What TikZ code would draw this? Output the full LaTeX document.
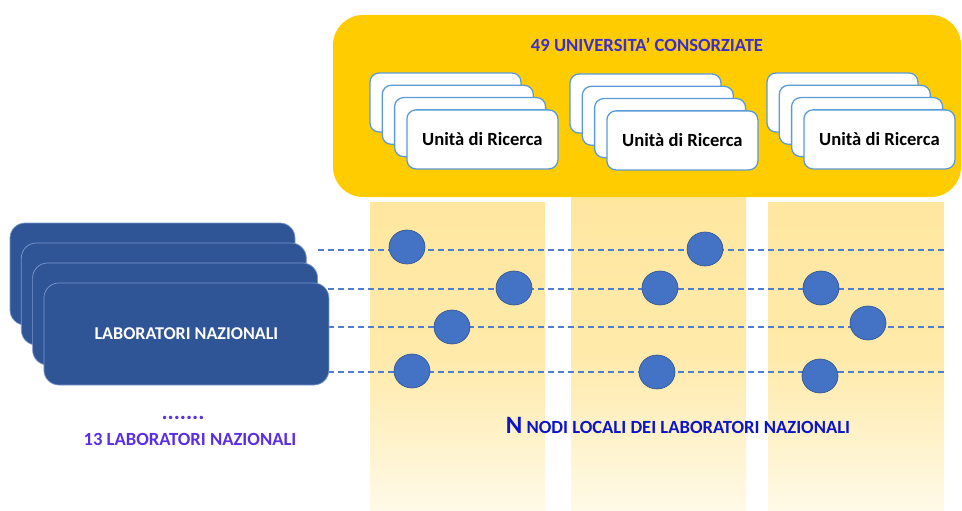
\documentclass[tikz,border=0pt]{standalone}
\usepackage{fontspec}
\setmainfont{Carlito}
\usetikzlibrary{shapes.geometric}
\definecolor{gold}{RGB}{255,204,0}
\definecolor{stripTop}{RGB}{255,231,160}
\definecolor{stripMid}{RGB}{255,234,170}
\definecolor{stripBot}{RGB}{255,250,232}
\definecolor{labblue}{RGB}{47,85,151}
\definecolor{labedge}{RGB}{125,152,205}
\definecolor{cardedge}{RGB}{91,155,213}
\definecolor{dotblue}{RGB}{68,114,196}
\definecolor{dotedge}{RGB}{47,82,143}
\definecolor{lineblue}{RGB}{80,125,205}
\definecolor{titlecol}{RGB}{60,45,210}
\definecolor{labtxt}{RGB}{90,45,230}
\definecolor{nodetxt}{RGB}{10,20,200}
\tikzset{
  urcard/.style={draw=cardedge, line width=1.3pt, fill=white, rounded corners=9pt,
    minimum width=151pt, minimum height=59pt, inner sep=0pt},
  labcard/.style={draw=labedge, line width=0.7pt, fill=labblue, rounded corners=15pt,
    minimum width=285pt, minimum height=102pt, inner sep=0pt},
  localnode/.style={ellipse, draw=dotedge, line width=0.6pt, fill=dotblue,
    minimum width=36pt, minimum height=34pt, inner sep=0pt},
  link/.style={draw=lineblue, line width=1.2pt, dash pattern=on 6pt off 4pt},
  strip/.style={top color=stripTop, bottom color=stripBot, middle color=stripMid, draw=none},
  urtext/.style={font=\fontsize{18.6}{20}\selectfont\bfseries, text=black},
}
\begin{document}
\begin{tikzpicture}[x=1pt,y=-1pt]
\useasboundingbox (0,0) rectangle (962,511);
% strips
\shade[strip] (370,202) rectangle (545,511);
\shade[strip] (571,196) rectangle (746,511);
\shade[strip] (768,202) rectangle (944,511);
% consortium box
\node[fill=gold, rounded corners=30pt, minimum width=628pt, minimum height=182pt, inner sep=0pt]
  (univ) at (647,106) {};
\node[font=\fontsize{18.6}{20}\selectfont\bfseries, text=titlecol] (univtitle) at (647,45) {49 UNIVERSITA’ CONSORZIATE};
% research unit stacks
\foreach \g/\gx/\gy in {1/370/73, 2/570/74, 3/767/73}{
  \foreach \k in {0,1,2,3}{
    \node[urcard] (ur\g\k) at ({\gx+12.3*\k+75.5},{\gy+12.3*\k+29.5}) {};
  }
  \node[urtext] (urt\g) at (ur\g3) {Unità di Ricerca};
}
% dashed links
\foreach \i/\y in {1/250,2/289,3/327,4/372}{
  \coordinate (ls\i) at (318,\y);
  \coordinate (le\i) at (945,\y);
  \draw[link] (ls\i) -- (le\i);
}
% local nodes
\node[localnode] (n1) at (407,247) {};
\node[localnode] (n2) at (514,288) {};
\node[localnode] (n3) at (452,327) {};
\node[localnode] (n4) at (412,371) {};
\node[localnode] (n5) at (705,249) {};
\node[localnode] (n6) at (660,288) {};
\node[localnode] (n7) at (657,372) {};
\node[localnode] (n8) at (821,288) {};
\node[localnode] (n9) at (868,323) {};
\node[localnode] (n10) at (820,376) {};
% laboratories
\foreach \k in {0,1,2,3}{
  \node[labcard] (lab\k) at ({10+11.3*\k+142.5},{223+20*\k+51}) {};
}
\node[font=\fontsize{18}{20}\selectfont\bfseries, text=white] (labtext) at (lab3) {LABORATORI NAZIONALI};
\node[font=\fontsize{23}{24}\selectfont\bfseries, text=labtxt] (dots) at (183,418) {.......};
\node[font=\fontsize{18.6}{20}\selectfont\bfseries, text=labtxt] (labcount) at (190,439) {13 LABORATORI NAZIONALI};
\node[font=\fontsize{18.6}{20}\selectfont\bfseries, text=nodetxt] (localtext) at (678,425)
  {{\fontsize{25}{26}\selectfont N} NODI LOCALI DEI LABORATORI NAZIONALI};
\end{tikzpicture}
\end{document}
